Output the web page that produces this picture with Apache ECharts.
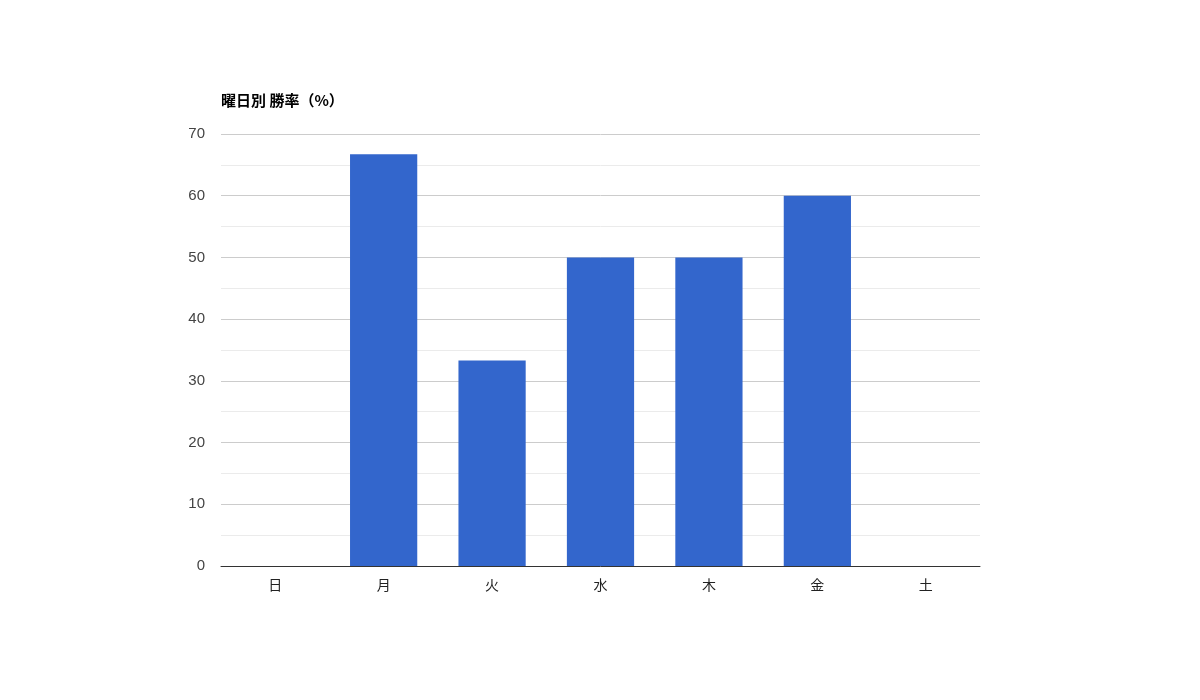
<!DOCTYPE html>
<html>
<head>
<meta charset="utf-8">
<script src="https://cdn.jsdelivr.net/npm/echarts@6/dist/echarts.min.js"></script>
<style>
html,body{margin:0;padding:0;background:#fff;}
#chart{width:1200px;height:700px;}
</style>
</head>
<body>
<div id="chart"></div>
<script>
// 曜日
var days = ['日', '月', '火', '水', '木', '金', '土'];
// 勝率（%）
var winRate = [0, 66.7, 33.3, 50, 50, 60, 0];
var yTicks = [0, 10, 20, 30, 40, 50, 60, 70];

var chart = echarts.init(document.getElementById('chart'));
chart.setOption({
	animation: false,
	title: {
		text: '曜日別 勝率（%）',
		left: 216,
		top: 88,
		textStyle: {
			fontFamily: 'Noto Sans CJK JP',
			fontSize: 15,
			fontWeight: 'bold',
			color: '#000'
		}
	},
	grid: {
		left: 221,
		right: 220,
		top: 134,
		bottom: 134
	},
	xAxis: {
		type: 'category',
		data: days,
		axisTick: {show: false},
		axisLine: {lineStyle: {color: '#333', width: 1}},
		axisLabel: {
			color: '#222',
			fontSize: 14,
			margin: 12,
			fontFamily: 'Noto Sans CJK JP'
		}
	},
	yAxis: {
		type: 'value',
		min: yTicks[0],
		max: yTicks[yTicks.length - 1],
		interval: 10,
		axisLine: {show: false},
		axisTick: {show: false},
		axisLabel: {
			color: '#444',
			fontSize: 15,
			margin: 16,
			fontFamily: 'Liberation Sans, Arial'
		},
		splitLine: {lineStyle: {color: '#cccccc'}},
		minorTick: {show: false, splitNumber: 2},
		minorSplitLine: {show: true, lineStyle: {color: '#ebebeb'}}
	},
	series: [{
		type: 'bar',
		data: winRate,
		barWidth: '62%',
		itemStyle: {color: '#3366cc'}
	}]
});
</script>
</body>
</html>
